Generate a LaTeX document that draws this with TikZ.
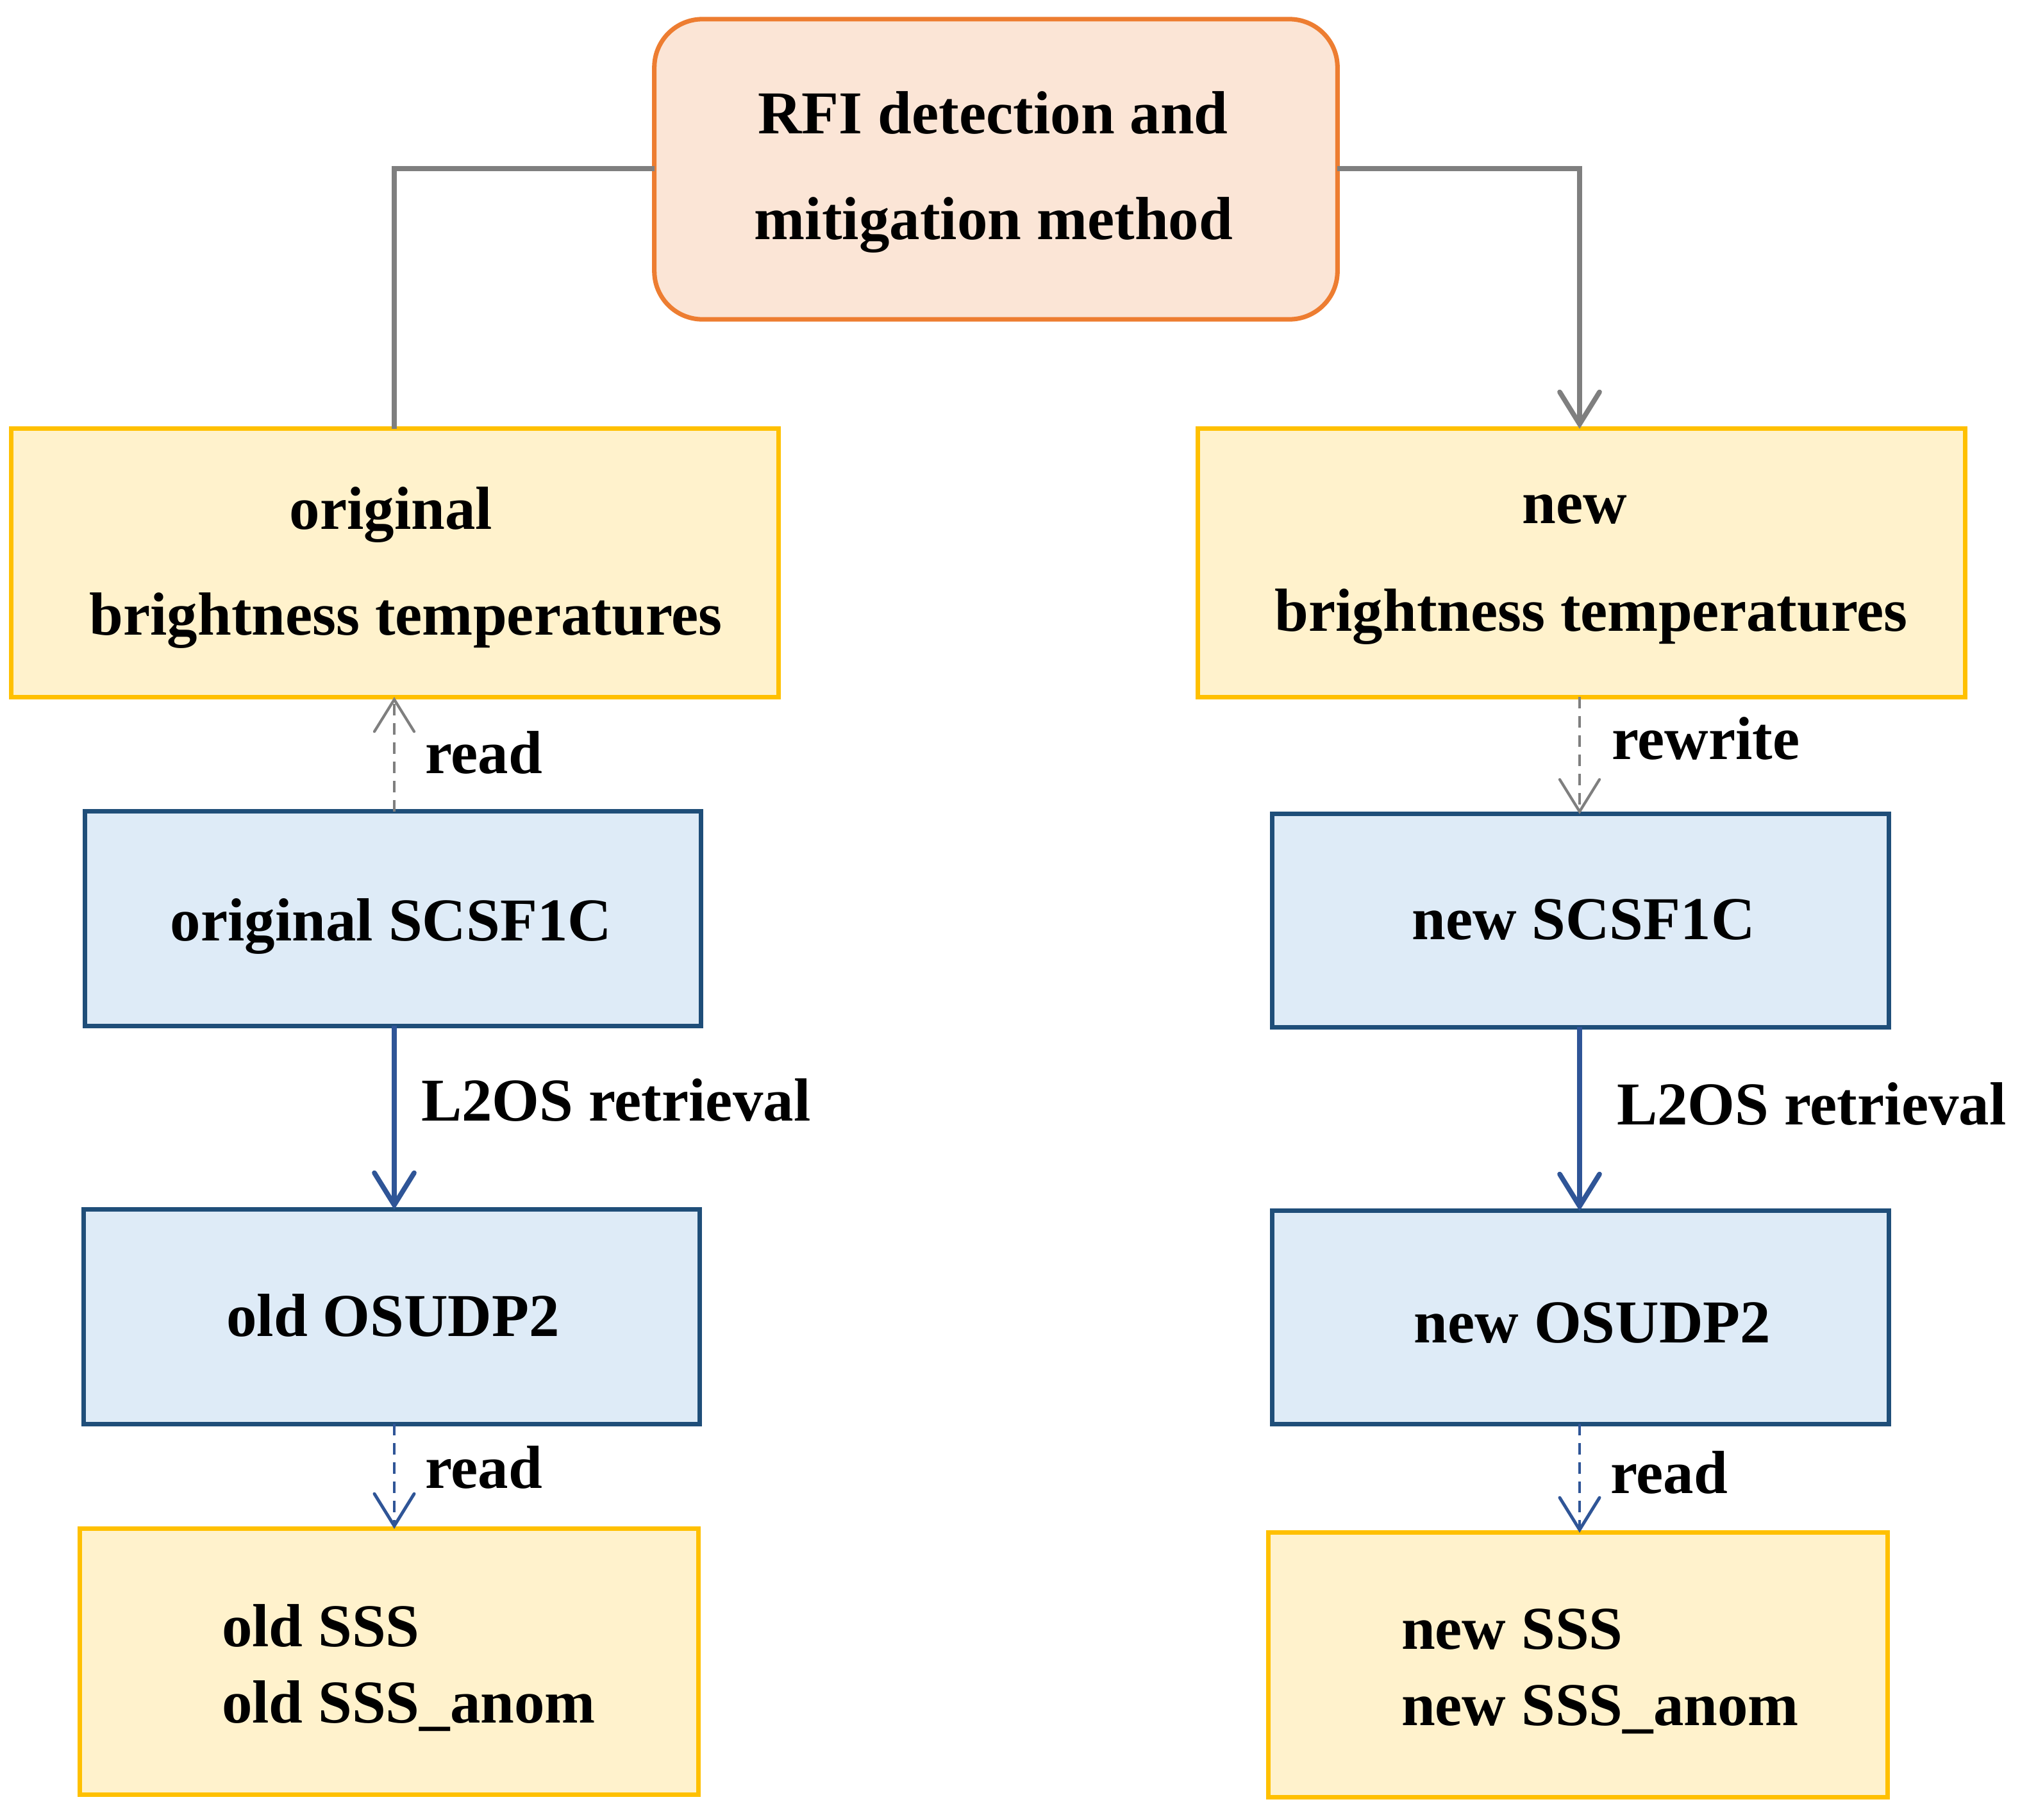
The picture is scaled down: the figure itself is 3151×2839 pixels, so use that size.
\documentclass[tikz,border=0pt]{standalone}
\usepackage{fontspec}
\setmainfont{Liberation Serif}
\usetikzlibrary{arrows.meta}
\definecolor{peachfill}{HTML}{FBE5D6}
\definecolor{orangeline}{HTML}{ED7D31}
\definecolor{yelfill}{HTML}{FFF2CC}
\definecolor{yelline}{HTML}{FFC000}
\definecolor{bluefill}{HTML}{DEEBF7}
\definecolor{blueline}{HTML}{1F4E79}
\definecolor{bluearrow}{HTML}{2F5597}
\definecolor{greyline}{HTML}{7F7F7F}
\begin{document}
\begin{tikzpicture}[x=0.01cm,y=-0.01cm,
  every node/.style={inner sep=0pt,outer sep=0pt},
  topbox/.style={draw=orangeline,fill=peachfill,line width=2pt,rounded corners=0.75cm},
  ybox/.style={draw=yelline,fill=yelfill,line width=2pt},
  bbox/.style={draw=blueline,fill=bluefill,line width=2pt},
  txt/.style={font=\fontsize{27}{33}\selectfont\bfseries,anchor=base},
  ltxt/.style={font=\fontsize{27}{33}\selectfont\bfseries,anchor=base west},
  tip/.style={-{Straight Barb[length=0.5cm,width=0.62cm,line cap=round]}},
  greyconn/.style={draw=greyline,line width=2.2pt},
  greydash/.style={draw=greyline,line width=1.2pt,dash pattern=on 0.18cm off 0.12cm},
  bluesolid/.style={draw=bluearrow,line width=2.2pt},
  bluedash/.style={draw=bluearrow,line width=1.4pt,dash pattern=on 0.18cm off 0.12cm}
]
\useasboundingbox (0,0) rectangle (3151,2839);

% boxes
\node[topbox,minimum width=10.65cm,minimum height=4.68cm] (top) at (1553.5,264) {};
\node[ybox,minimum width=11.96cm,minimum height=4.18cm] (ly1) at (616,878) {};
\node[ybox,minimum width=11.96cm,minimum height=4.18cm] (ry1) at (2467,878) {};
\node[bbox,minimum width=9.60cm,minimum height=3.34cm] (lb1) at (613,1433) {};
\node[bbox,minimum width=9.61cm,minimum height=3.32cm] (rb1) at (2465.5,1436) {};
\node[bbox,minimum width=9.60cm,minimum height=3.34cm] (lb2) at (611,2054) {};
\node[bbox,minimum width=9.61cm,minimum height=3.32cm] (rb2) at (2465.5,2055) {};
\node[ybox,minimum width=9.64cm,minimum height=4.14cm] (ly2) at (607,2592) {};
\node[ybox,minimum width=9.65cm,minimum height=4.12cm] (ry2) at (2461.5,2597) {};

% texts in boxes
\node[txt] (topa) at (1549,208) {RFI detection and};
\node[txt] (topb) at (1550,373) {mitigation method};
\node[txt] (ly1a) at (610,825) {original};
\node[txt] (ly1b) at (633,990) {brightness temperatures};
\node[txt] (ry1a) at (2456,816) {new};
\node[txt] (ry1b) at (2482,984) {brightness temperatures};
\node[txt] (lb1t) at (610,1467) {original SCSF1C};
\node[txt] (rb1t) at (2470,1465) {new SCSF1C};
\node[txt] (lb2t) at (613,2084) {old OSUDP2};
\node[txt] (rb2t) at (2484,2094) {new OSUDP2};
\node[ltxt] (ly2a) at (346,2568) {old SSS};
\node[ltxt] (ly2b) at (346,2687) {old SSS\_anom};
\node[ltxt] (ry2a) at (2186,2572) {new SSS};
\node[ltxt] (ry2b) at (2186,2691) {new SSS\_anom};

% connector labels
\node[ltxt] (lread1) at (663,1206) {read};
\node[ltxt] (lrewrite) at (2514,1184) {rewrite};
\node[ltxt] (ll2os) at (657,1748) {L2OS retrieval};
\node[ltxt] (rl2os) at (2522,1754) {L2OS retrieval};
\node[ltxt] (lread2) at (663,2321) {read};
\node[ltxt] (rread2) at (2512,2329) {read};

% column coordinates
\coordinate (cl) at (615,0);
\coordinate (cr) at (2464,0);
\coordinate (rowtop) at (0,263);

% connectors
\draw[greyconn] (top.west |- rowtop) -| (ly1.north -| cl);
\draw[greyconn,tip] (top.east |- rowtop) -| (ry1.north -| cr);
\draw[greydash,tip] (lb1.north -| cl) -- (ly1.south -| cl);
\draw[greydash,tip] (ry1.south -| cr) -- (rb1.north -| cr);
\draw[bluesolid,tip] (lb1.south -| cl) -- (lb2.north -| cl);
\draw[bluesolid,tip] (rb1.south -| cr) -- (rb2.north -| cr);
\draw[bluedash,tip] (lb2.south -| cl) -- (ly2.north -| cl);
\draw[bluedash,tip] (rb2.south -| cr) -- (ry2.north -| cr);
\end{tikzpicture}
\end{document}
